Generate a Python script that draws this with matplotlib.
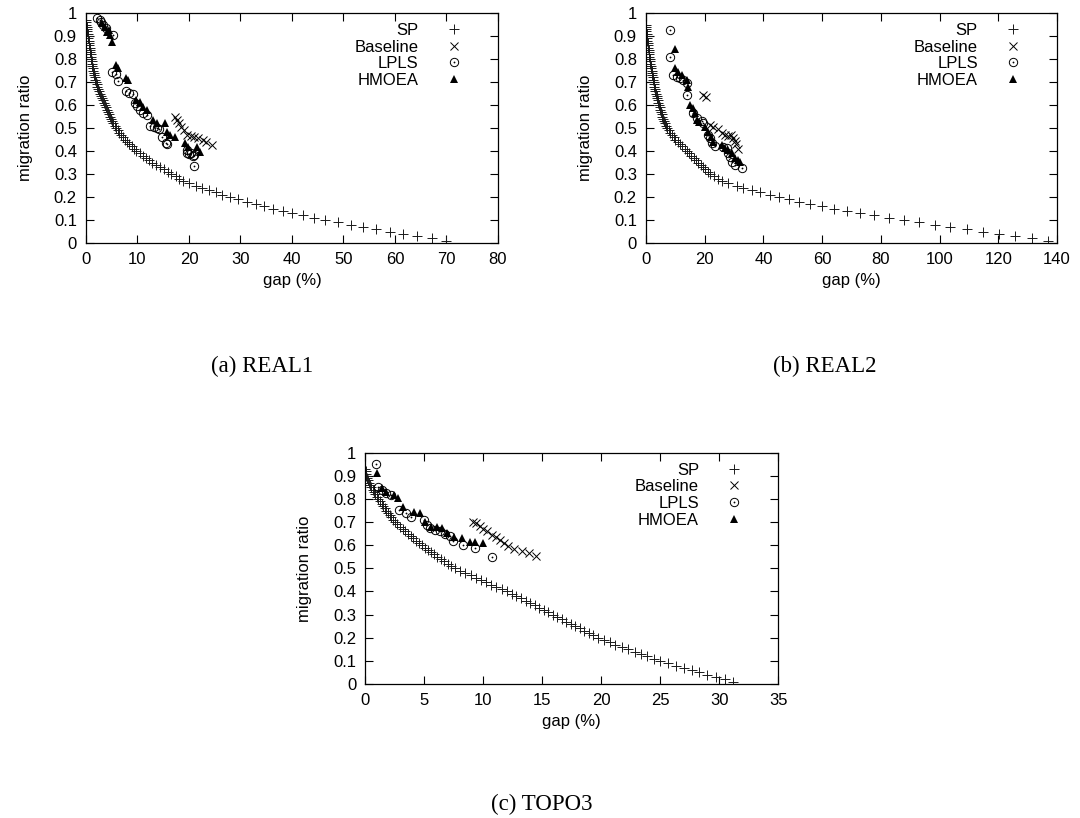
# Pareto fronts: migration ratio vs gap, three topologies (REAL1, REAL2, TOPO3)
import matplotlib
matplotlib.use("Agg")
import matplotlib.pyplot as plt
from matplotlib.legend_handler import HandlerTuple
from matplotlib.ticker import MultipleLocator, FormatStrFormatter

plt.rcParams["font.family"] = ["Liberation Sans", "DejaVu Sans"]
plt.rcParams["font.size"] = 12

# ---------------- REAL1 ----------------
real1_sp_ratio = [0.97, 0.96, 0.95, 0.94, 0.93, 0.92, 0.91, 0.90, 0.89, 0.88,
                  0.87, 0.86, 0.85, 0.84, 0.83, 0.82, 0.81, 0.80, 0.79, 0.78,
                  0.77, 0.76, 0.75, 0.74, 0.73, 0.72, 0.71, 0.70, 0.69, 0.68,
                  0.67, 0.66, 0.65, 0.64, 0.63, 0.62, 0.61, 0.60, 0.59, 0.58,
                  0.57, 0.56, 0.55, 0.54, 0.53, 0.52, 0.51, 0.50, 0.49, 0.48,
                  0.47, 0.46, 0.45, 0.44, 0.43, 0.42, 0.41, 0.40, 0.39, 0.38,
                  0.37, 0.36, 0.35, 0.34, 0.33, 0.32, 0.31, 0.30, 0.29, 0.28,
                  0.27, 0.26, 0.25, 0.24, 0.23, 0.22, 0.21, 0.20, 0.19, 0.18,
                  0.17, 0.16, 0.15, 0.14, 0.13, 0.12, 0.11, 0.10, 0.09, 0.08,
                  0.07, 0.06, 0.05, 0.04, 0.03, 0.02, 0.01]
real1_sp_gap = [0.0, 0.05, 0.1, 0.16, 0.22, 0.28, 0.34, 0.4, 0.46, 0.52,
                0.58, 0.64, 0.7, 0.76, 0.82, 0.88, 0.94, 1.0, 1.08, 1.16,
                1.24, 1.32, 1.4, 1.5, 1.6, 1.7, 1.8, 1.9, 2.05, 2.2,
                2.35, 2.5, 2.7, 2.88, 3.05, 3.23, 3.41, 3.6, 3.8, 4.0,
                4.2, 4.4, 4.6, 4.84, 5.08, 5.32, 5.56, 5.8, 6.14, 6.48,
                6.82, 7.16, 7.5, 7.96, 8.42, 8.88, 9.34, 9.8, 10.4, 11.0,
                11.6, 12.2, 12.8, 13.56, 14.32, 15.08, 15.84, 16.6, 17.4, 18.1,
                18.9, 20.0, 21.3, 22.6, 23.9, 25.2, 26.5, 28.0, 29.6, 31.2,
                33.0, 34.6, 36.4, 38.2, 40.1, 42.2, 44.3, 46.5, 49.0, 51.4,
                53.8, 56.4, 59.0, 61.6, 64.3, 67.2, 70.0]
real1_base_gap = [17.2, 17.6, 18.1, 18.5, 19.1, 19.7, 20.4, 21.0, 21.7, 22.7, 23.4, 24.4]
real1_base_ratio = [0.55, 0.535, 0.52, 0.505, 0.49, 0.47, 0.465, 0.46, 0.455, 0.448, 0.44, 0.425]
real1_lpls_gap = [2.1, 2.7, 3.0, 3.4, 3.9, 5.3, 5.0, 5.8, 6.3, 7.8, 8.4, 9.2, 9.5, 10.0,
                  10.5, 11.1, 11.8, 12.4, 13.3, 13.7, 14.2, 14.7, 15.5, 15.8, 19.6,
                  19.7, 20.1, 20.4, 20.7, 21.0, 21.0]
real1_lpls_ratio = [0.977, 0.97, 0.962, 0.948, 0.933, 0.904, 0.745, 0.735, 0.704, 0.662,
                    0.651, 0.646, 0.607, 0.596, 0.578, 0.564, 0.557, 0.509, 0.503, 0.499,
                    0.494, 0.462, 0.433, 0.43, 0.39, 0.404, 0.387, 0.39, 0.378, 0.383, 0.336]
real1_hm_gap = [3.2, 3.7, 4.0, 4.5, 4.7, 5.0, 5.8, 6.3, 7.8, 8.2, 9.8, 10.4, 11.1, 11.8,
                13.0, 13.7, 15.3, 15.7, 16.3, 17.3, 19.2, 19.9, 21.5, 22.1]
real1_hm_ratio = [0.955, 0.94, 0.919, 0.926, 0.904, 0.875, 0.774, 0.76, 0.716, 0.709,
                  0.622, 0.614, 0.593, 0.58, 0.535, 0.52, 0.52, 0.484, 0.47, 0.462,
                  0.433, 0.419, 0.419, 0.397]

# ---------------- REAL2 ----------------
real2_sp_ratio = [0.95, 0.94, 0.93, 0.92, 0.91, 0.90, 0.89, 0.88, 0.87, 0.86,
                  0.85, 0.84, 0.83, 0.82, 0.81, 0.80, 0.79, 0.78, 0.77, 0.76,
                  0.75, 0.74, 0.73, 0.72, 0.71, 0.70, 0.69, 0.68, 0.67, 0.66,
                  0.65, 0.64, 0.63, 0.62, 0.61, 0.60, 0.59, 0.58, 0.57, 0.56,
                  0.55, 0.54, 0.53, 0.52, 0.51, 0.50, 0.49, 0.48, 0.47, 0.46,
                  0.45, 0.44, 0.43, 0.42, 0.41, 0.40, 0.39, 0.38, 0.37, 0.36,
                  0.35, 0.34, 0.33, 0.32, 0.31, 0.30, 0.29, 0.28, 0.27, 0.26,
                  0.25, 0.24, 0.23, 0.22, 0.21, 0.20, 0.19, 0.18, 0.17, 0.16,
                  0.15, 0.14, 0.13, 0.12, 0.11, 0.10, 0.09, 0.08, 0.07, 0.06,
                  0.05, 0.04, 0.03, 0.02, 0.01]
real2_sp_gap = [0.0, 0.05, 0.1, 0.15, 0.2, 0.3, 0.4, 0.5, 0.6, 0.7,
                0.8, 0.9, 1.0, 1.1, 1.2, 1.3, 1.4, 1.5, 1.65, 1.8,
                1.9, 2.05, 2.2, 2.35, 2.5, 2.6, 2.75, 2.9, 3.05, 3.2,
                3.4, 3.6, 3.8, 4.0, 4.2, 4.4, 4.65, 4.9, 5.1, 5.35,
                5.6, 5.9, 6.2, 6.55, 6.9, 7.2, 7.7, 8.3, 8.9, 9.4,
                10.0, 10.8, 11.6, 12.4, 13.2, 14.0, 14.8, 15.5, 16.3, 17.0,
                17.8, 18.6, 19.4, 20.2, 21.0, 21.8, 23.1, 24.4, 25.8, 28.0,
                30.9, 33.2, 36.0, 38.9, 42.3, 45.4, 48.8, 52.2, 55.9, 59.9,
                64.2, 68.4, 72.9, 77.8, 82.8, 87.9, 93.1, 98.3, 103.6, 109.3,
                114.8, 120.1, 125.8, 131.5, 137.1]
real2_base_gap = [19.5, 20.6, 21.8, 23.0, 24.4, 25.8, 27.0, 28.0, 28.8, 29.5, 30.2, 30.6, 31.2]
real2_base_ratio = [0.645, 0.635, 0.515, 0.505, 0.495, 0.48, 0.47, 0.465, 0.47, 0.455,
                    0.445, 0.43, 0.41]
real2_lpls_gap = [8.2, 8.2, 9.3, 10.5, 11.6, 12.7, 13.9, 13.9, 16.1, 17.3, 19.0, 19.5,
                  21.2, 21.8, 22.4, 23.5, 26.3, 27.5, 28.0, 28.6, 29.2, 30.3, 32.6]
real2_lpls_ratio = [0.926, 0.81, 0.73, 0.723, 0.716, 0.709, 0.694, 0.643, 0.564, 0.542,
                    0.532, 0.52, 0.47, 0.455, 0.434, 0.422, 0.419, 0.412, 0.39, 0.375,
                    0.354, 0.339, 0.325]
real2_hm_gap = [9.9, 9.9, 11.0, 12.2, 13.9, 14.4, 15.0, 15.9, 16.7, 17.3, 18.2, 20.1,
                21.2, 22.0, 22.9, 25.8, 26.9, 28.0, 29.2, 30.3, 31.5, 32.0]
real2_hm_ratio = [0.842, 0.759, 0.745, 0.73, 0.709, 0.677, 0.6, 0.586, 0.564, 0.535,
                  0.527, 0.506, 0.484, 0.462, 0.44, 0.426, 0.412, 0.404, 0.39, 0.368,
                  0.361, 0.354]

# ---------------- TOPO3 ----------------
topo3_sp_ratio = [0.93, 0.92, 0.91, 0.90, 0.89, 0.88, 0.87, 0.86, 0.85, 0.84,
                  0.83, 0.82, 0.81, 0.80, 0.79, 0.78, 0.77, 0.76, 0.75, 0.74,
                  0.73, 0.72, 0.71, 0.70, 0.69, 0.68, 0.67, 0.66, 0.65, 0.64,
                  0.63, 0.62, 0.61, 0.60, 0.59, 0.58, 0.57, 0.56, 0.55, 0.54,
                  0.53, 0.52, 0.51, 0.50, 0.49, 0.48, 0.47, 0.46, 0.45, 0.44,
                  0.43, 0.42, 0.41, 0.40, 0.39, 0.38, 0.37, 0.36, 0.35, 0.34,
                  0.33, 0.32, 0.31, 0.30, 0.29, 0.28, 0.27, 0.26, 0.25, 0.24,
                  0.23, 0.22, 0.21, 0.20, 0.19, 0.18, 0.17, 0.16, 0.15, 0.14,
                  0.13, 0.12, 0.11, 0.10, 0.09, 0.08, 0.07, 0.06, 0.05, 0.04,
                  0.03, 0.02, 0.01]
topo3_sp_gap = [0.0, 0.03, 0.07, 0.1, 0.18, 0.26, 0.34, 0.42, 0.5, 0.62,
                0.74, 0.86, 0.98, 1.1, 1.24, 1.38, 1.52, 1.66, 1.8, 1.94,
                2.08, 2.22, 2.36, 2.5, 2.72, 2.94, 3.16, 3.38, 3.6, 3.84,
                4.08, 4.32, 4.56, 4.8, 5.06, 5.32, 5.58, 5.84, 6.1, 6.4,
                6.7, 7.0, 7.3, 7.6, 8.04, 8.48, 8.92, 9.36, 9.8, 10.24,
                10.68, 11.12, 11.56, 12.0, 12.4, 12.8, 13.2, 13.6, 14.0, 14.38,
                14.76, 15.14, 15.52, 15.9, 16.28, 16.66, 17.04, 17.42, 17.8, 18.18,
                18.56, 18.94, 19.32, 19.7, 20.2, 20.7, 21.2, 21.75, 22.3, 22.85,
                23.4, 23.9, 24.45, 25.0, 25.65, 26.3, 27.0, 27.65, 28.3, 29.0,
                29.75, 30.5, 31.2]
topo3_base_gap = [9.1, 9.4, 9.7, 10.0, 10.3, 10.7, 11.1, 11.4, 11.75, 12.1, 12.6, 13.3, 13.9, 14.5]
topo3_base_ratio = [0.70, 0.695, 0.685, 0.672, 0.66, 0.645, 0.635, 0.622, 0.61, 0.598,
                    0.585, 0.575, 0.565, 0.553]
topo3_lpls_gap = [0.9, 1.1, 1.4, 1.8, 2.2, 2.9, 3.45, 3.9, 5.0, 5.2, 5.5, 5.9, 6.3,
                  6.75, 7.2, 7.45, 8.3, 9.3, 10.7]
topo3_lpls_ratio = [0.951, 0.85, 0.839, 0.824, 0.817, 0.752, 0.738, 0.72, 0.709, 0.687,
                    0.673, 0.666, 0.661, 0.648, 0.64, 0.62, 0.601, 0.587, 0.55]
topo3_hm_gap = [0.97, 1.4, 1.8, 2.4, 2.8, 3.2, 4.1, 4.6, 5.05, 5.6, 6.05, 6.5, 6.9,
                7.5, 8.2, 8.9, 9.3, 9.95]
topo3_hm_ratio = [0.911, 0.846, 0.83, 0.817, 0.803, 0.767, 0.745, 0.738, 0.702, 0.68,
                  0.68, 0.673, 0.652, 0.637, 0.63, 0.615, 0.615, 0.608]

LABELS = ["SP", "Baseline", "LPLS", "HMOEA"]


def draw_panel(ax, sp, base, lpls, hm, xmax, xstep):
    """Ek panel: 4 series + gnuplot jaisa frame."""
    h_sp, = ax.plot(sp[0], sp[1], ls="none", marker="+", ms=6.5, mew=0.7, color="#1a1a1a")
    h_base, = ax.plot(base[0], base[1], ls="none", marker="x", ms=5.8, mew=0.7, color="k")
    h_ring, = ax.plot(lpls[0], lpls[1], ls="none", marker="o", ms=6, mew=0.7,
                      mfc="none", mec="k")
    h_dot, = ax.plot(lpls[0], lpls[1], ls="none", marker="o", ms=1.3, mew=0,
                     color="k")
    h_hm, = ax.plot(hm[0], hm[1], ls="none", marker="^", ms=5.3, mew=0, color="k")

    ax.set_xlim(0, xmax)
    ax.set_ylim(0, 1)
    ax.xaxis.set_major_locator(MultipleLocator(xstep))
    ax.yaxis.set_major_locator(MultipleLocator(0.1))
    ax.yaxis.set_major_formatter(FormatStrFormatter("%g"))
    ax.tick_params(direction="in", top=True, right=True, length=5.5, width=0.8,
                   pad=6.5, labelsize=12)
    for s in ax.spines.values():
        s.set_linewidth(0.9)
    ax.set_xlabel("gap (%)", fontsize=12, labelpad=4)
    ax.set_ylabel("migration ratio", fontsize=12, labelpad=15)

    # legend: text right-aligned, marker on the right (gnuplot style)
    ax.legend([h_sp, h_base, (h_ring, h_dot), h_hm], LABELS,
              handler_map={tuple: HandlerTuple(ndivide=1)},
              loc="upper right", bbox_to_anchor=(0.933, 0.957),
              frameon=False, markerfirst=False, numpoints=1, fontsize=12,
              handlelength=2.0, handletextpad=1.1, labelspacing=0.1,
              borderpad=0, borderaxespad=0)


fig = plt.figure(figsize=(10.8, 8.18), dpi=100)
ax_a = fig.add_axes([0.0796, 0.7029, 0.3815, 0.2812])
ax_b = fig.add_axes([0.5981, 0.7029, 0.3806, 0.2812])
ax_c = fig.add_axes([0.3382, 0.1638, 0.3824, 0.2828])

draw_panel(ax_a, (real1_sp_gap, real1_sp_ratio), (real1_base_gap, real1_base_ratio),
           (real1_lpls_gap, real1_lpls_ratio), (real1_hm_gap, real1_hm_ratio), 80, 10)
draw_panel(ax_b, (real2_sp_gap, real2_sp_ratio), (real2_base_gap, real2_base_ratio),
           (real2_lpls_gap, real2_lpls_ratio), (real2_hm_gap, real2_hm_ratio), 140, 20)
draw_panel(ax_c, (topo3_sp_gap, topo3_sp_ratio), (topo3_base_gap, topo3_base_ratio),
           (topo3_lpls_gap, topo3_lpls_ratio), (topo3_hm_gap, topo3_hm_ratio), 35, 5)

cap = dict(ha="center", va="center", fontsize=16.5, family=["Liberation Serif", "DejaVu Serif"])
fig.text(262 / 1080, 1 - 366 / 818, "(a) REAL1", **cap)
fig.text(825 / 1080, 1 - 366 / 818, "(b) REAL2", **cap)
fig.text(542 / 1080, 1 - 804 / 818, "(c) TOPO3", **cap)

fig.savefig("out.png", dpi=100)
plt.close(fig)
